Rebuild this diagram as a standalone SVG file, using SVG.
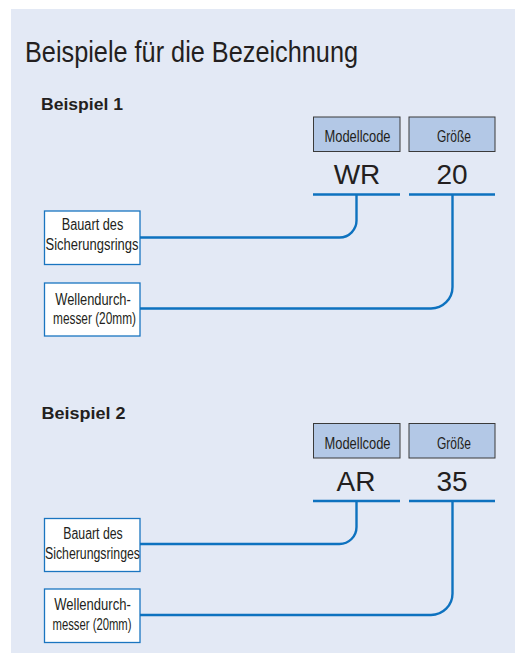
<svg xmlns="http://www.w3.org/2000/svg" width="515" height="655" viewBox="0 0 515 655">
<style>
text{font-family:"Liberation Sans",Arial,sans-serif;fill:#231f20}
.title{font-size:29px}
.ex{font-size:17px;font-weight:bold}
.hdr{fill:#b3c8e6;stroke:#3a3a3a;stroke-width:1}
.hdrt{font-size:17px;text-anchor:middle}
.code{font-size:28px;text-anchor:middle}
.box{fill:#fff;stroke:#1a75c0;stroke-width:1.3}
.bt{font-size:16px;text-anchor:middle}
.ln{fill:none;stroke:#0e72bf;stroke-width:2.4}
</style>
<rect x="11" y="9" width="504" height="644" fill="#e3e9f5"/>
<text class="title" x="25" y="62" textLength="333" lengthAdjust="spacingAndGlyphs">Beispiele für die Bezeichnung</text>

<g id="ex1">
<text class="ex" x="41" y="110" textLength="82" lengthAdjust="spacingAndGlyphs">Beispiel 1</text>
<g id="ex1-modellcode">
<rect class="hdr" x="313.5" y="117" width="86.5" height="34.5"/>
<text class="hdrt" x="357.5" y="142" textLength="66" lengthAdjust="spacingAndGlyphs">Modellcode</text>
<text class="code" x="357" y="183.5">WR</text>
</g>
<g id="ex1-groesse">
<rect class="hdr" x="409" y="117" width="86" height="34.5"/>
<text class="hdrt" x="454" y="142" textLength="34" lengthAdjust="spacingAndGlyphs">Größe</text>
<text class="code" x="452" y="183.5">20</text>
</g>
<g id="ex1-bauart">
<rect class="box" x="44.5" y="211" width="95.5" height="53.5"/>
<text class="bt" x="92.5" y="229.5" textLength="61.5" lengthAdjust="spacingAndGlyphs">Bauart des</text>
<text class="bt" x="92" y="250" textLength="93" lengthAdjust="spacingAndGlyphs">Sicherungsrings</text>
</g>
<g id="ex1-welle">
<rect class="box" x="44.5" y="283" width="95.5" height="53"/>
<text class="bt" x="93" y="304.5" textLength="75.5" lengthAdjust="spacingAndGlyphs">Wellendurch-</text>
<text class="bt" x="94.5" y="324" textLength="83" lengthAdjust="spacingAndGlyphs">messer (20mm)</text>
</g>
</g>

<g id="ex2">
<text class="ex" x="41.5" y="418.5" textLength="84" lengthAdjust="spacingAndGlyphs">Beispiel 2</text>
<g id="ex2-modellcode">
<rect class="hdr" x="313.5" y="423.5" width="86.5" height="34.5"/>
<text class="hdrt" x="357.5" y="448.5" textLength="66" lengthAdjust="spacingAndGlyphs">Modellcode</text>
<text class="code" x="356" y="490.5">AR</text>
</g>
<g id="ex2-groesse">
<rect class="hdr" x="409" y="423.5" width="86" height="34.5"/>
<text class="hdrt" x="454" y="448.5" textLength="34" lengthAdjust="spacingAndGlyphs">Größe</text>
<text class="code" x="452" y="490.5">35</text>
</g>
<g id="ex2-bauart">
<rect class="box" x="44.5" y="518.5" width="95.5" height="53"/>
<text class="bt" x="93" y="539" textLength="59.5" lengthAdjust="spacingAndGlyphs">Bauart des</text>
<text class="bt" x="92.5" y="559" textLength="95" lengthAdjust="spacingAndGlyphs">Sicherungsringes</text>
</g>
<g id="ex2-welle">
<rect class="box" x="44.5" y="589" width="95.5" height="53.5"/>
<text class="bt" x="92.5" y="610" textLength="76.5" lengthAdjust="spacingAndGlyphs">Wellendurch-</text>
<text class="bt" x="92" y="630" textLength="79" lengthAdjust="spacingAndGlyphs">messer (20mm)</text>
</g>
</g>

<g id="connectors">
<path class="ln" d="M313 194.5H400M409 194.5H495"/>
<path class="ln" d="M356.5 194.5V220A17 17 0 0 1 339.5 237.5H140"/>
<path class="ln" d="M452.5 194.5V287A21.5 21.5 0 0 1 431 308.5H140"/>
<path class="ln" d="M313 501H400M409 501H495"/>
<path class="ln" d="M356.5 501V527A17 17 0 0 1 339.5 544H140"/>
<path class="ln" d="M452.5 501V593.5A21.5 21.5 0 0 1 431 615H140"/>
</g>
</svg>
